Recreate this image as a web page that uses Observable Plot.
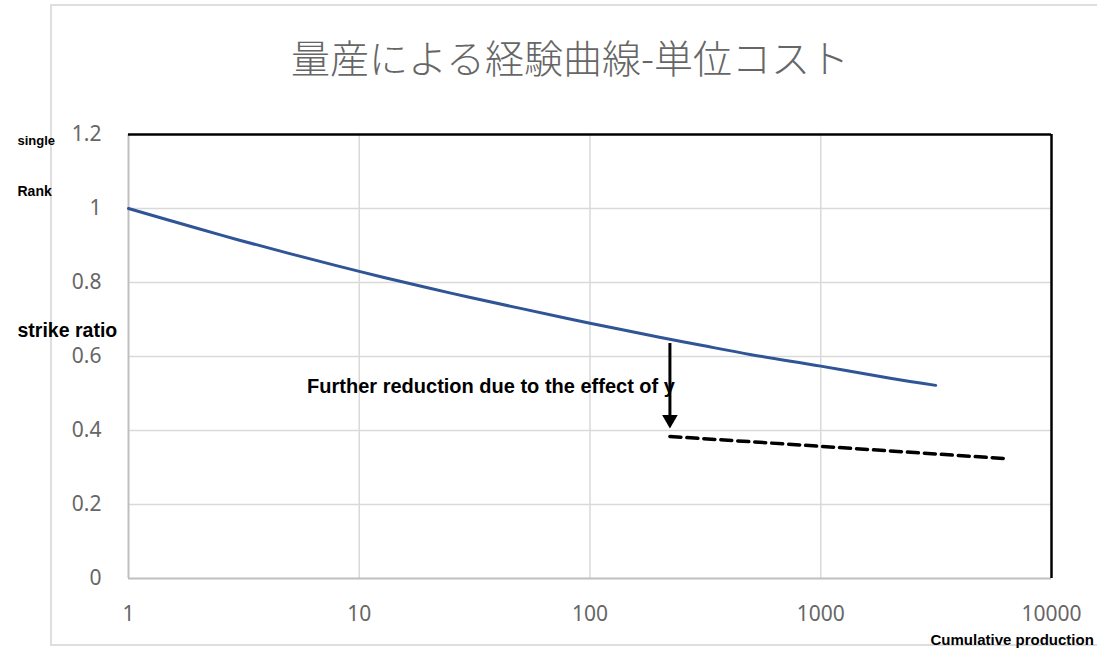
<!DOCTYPE html>
<html>
<head>
<meta charset="utf-8">
<script src="https://cdn.jsdelivr.net/npm/d3@7"></script>
<script src="https://cdn.jsdelivr.net/npm/@observablehq/plot@0.6"></script>
<style>
  html, body { margin: 0; padding: 0; background: #fff; overflow: hidden; }
  #wrap { position: relative; width: 1097px; height: 649px; }
  #border { position: absolute; left: 50px; top: 4px; width: 1100px; height: 642px; border: 2px solid #dedede; box-sizing: border-box; }
  #chart { position: absolute; left: 0; top: 0; }
</style>
</head>
<body>
<div id="wrap"><div id="border"></div><div id="chart"></div></div>
<script>
// Title and labels
const title = "量産による経験曲線-単位コスト";
const yLabelTop = "single";
const yLabelMid = "Rank";
const yLabelMain = "strike ratio";
const xLabel = "Cumulative production";
const annotation = "Further reduction due to the effect of y";

// Ticks
const xTicks = [1, 10, 100, 1000, 10000];
const yTicks = [0, 0.2, 0.4, 0.6, 0.8, 1, 1.2];

// Learning curve (solid blue)
const curveX = [1, 2, 3, 5, 10, 20, 30, 50, 100, 200, 300, 500, 1000, 2000, 3150];
const curveY = [1.0, 0.946, 0.915, 0.878, 0.83, 0.785, 0.76, 0.73, 0.69, 0.652, 0.631, 0.605, 0.574, 0.541, 0.522];

// Further reduced curve (dashed black)
const dashX = [222, 6400];
const dashY = [0.384, 0.324];

// Arrow
const arrowX = [222];
const arrowFromY = [0.635];
const arrowToY = [0.43];

const curve = curveX.map((x, i) => ({x, y: curveY[i]}));
const dash = dashX.map((x, i) => ({x, y: dashY[i]}));
const arrow = arrowX.map((x, i) => ({x, y1: arrowFromY[i], y2: arrowToY[i]}));

const gray = "#666666";
const tickFont = "'Noto Sans', 'Noto Sans CJK JP', sans-serif";
const boldFont = "'Liberation Sans', Arial, sans-serif";

const chart = Plot.plot({
  width: 1097,
  height: 649,
  marginLeft: 128,
  marginRight: 46,
  marginTop: 134,
  marginBottom: 71,
  style: {background: "transparent", overflow: "visible"},
  x: {type: "log", domain: [1, 10000]},
  y: {domain: [0, 1.2]},
  marks: [
    Plot.gridY(yTicks.filter(d => d > 0 && d < 1.2), {stroke: "#d9d9d9", strokeOpacity: 1, strokeWidth: 1.5}),
    Plot.gridX(xTicks.filter(d => d > 1 && d < 10000), {stroke: "#d9d9d9", strokeOpacity: 1, strokeWidth: 1.5}),
    Plot.ruleX([1], {stroke: "#bfbfbf", strokeWidth: 2}),
    Plot.ruleY([0], {stroke: "#bfbfbf", strokeWidth: 2}),
    Plot.ruleY([1.2], {stroke: "#000", strokeWidth: 2.5}),
    Plot.ruleX([10000], {y1: 0, y2: 1.2, stroke: "#000", strokeWidth: 2.5}),
    Plot.axisX({ticks: xTicks, tickFormat: d => String(d), tickSize: 0, tickPadding: 28, fontSize: 21, fill: gray, fontFamily: tickFont, label: null}),
    Plot.axisY({ticks: yTicks, tickFormat: d => String(d), tickSize: 0, tickPadding: 27, fontSize: 21, fill: gray, fontFamily: tickFont, label: null}),
    Plot.line(curve, {x: "x", y: "y", stroke: "#2f5597", strokeWidth: 3, curve: "catmull-rom"}),
    Plot.line(dash, {x: "x", y: "y", stroke: "#000", strokeWidth: 3.5, strokeDasharray: "11 6"}),
    Plot.ruleX(arrow, {x: "x", y1: "y1", y2: "y2", stroke: "#000", strokeWidth: 3}),
    Plot.dot(arrow, {x: "x", y: "y2", symbol: "triangle", rotate: 180, r: 5.8, fill: "#000", stroke: "none"}),
    Plot.text([annotation], {x: arrowX[0], y: 0.52, text: d => d, textAnchor: "end", dx: 5, fontSize: 20, fontWeight: "bold", fontFamily: boldFont, fill: "#000"}),
    Plot.text([title], {frameAnchor: "top", lineAnchor: "middle", text: d => d, dx: -20, dy: -74, fontSize: 39, fill: gray, fontFamily: "'Noto Sans CJK JP', sans-serif", fontWeight: 300}),
    Plot.text([yLabelTop], {frameAnchor: "top-left", lineAnchor: "middle", text: d => d, textAnchor: "start", dx: -111, dy: 6, fontSize: 13, fontWeight: "bold", fontFamily: boldFont, fill: "#000"}),
    Plot.text([yLabelMid], {frameAnchor: "top-left", lineAnchor: "middle", text: d => d, textAnchor: "start", dx: -111, dy: 57, fontSize: 14, fontWeight: "bold", fontFamily: boldFont, fill: "#000"}),
    Plot.text([yLabelMain], {frameAnchor: "top-left", lineAnchor: "middle", text: d => d, textAnchor: "start", dx: -111, dy: 196, fontSize: 19.5, fontWeight: "bold", fontFamily: boldFont, fill: "#000"}),
    Plot.text([xLabel], {frameAnchor: "bottom-right", lineAnchor: "middle", text: d => d, textAnchor: "start", dx: -121, dy: 62, fontSize: 15, fontWeight: "bold", fontFamily: boldFont, fill: "#000"})
  ]
});
document.getElementById("chart").appendChild(chart);
</script>
</body>
</html>
